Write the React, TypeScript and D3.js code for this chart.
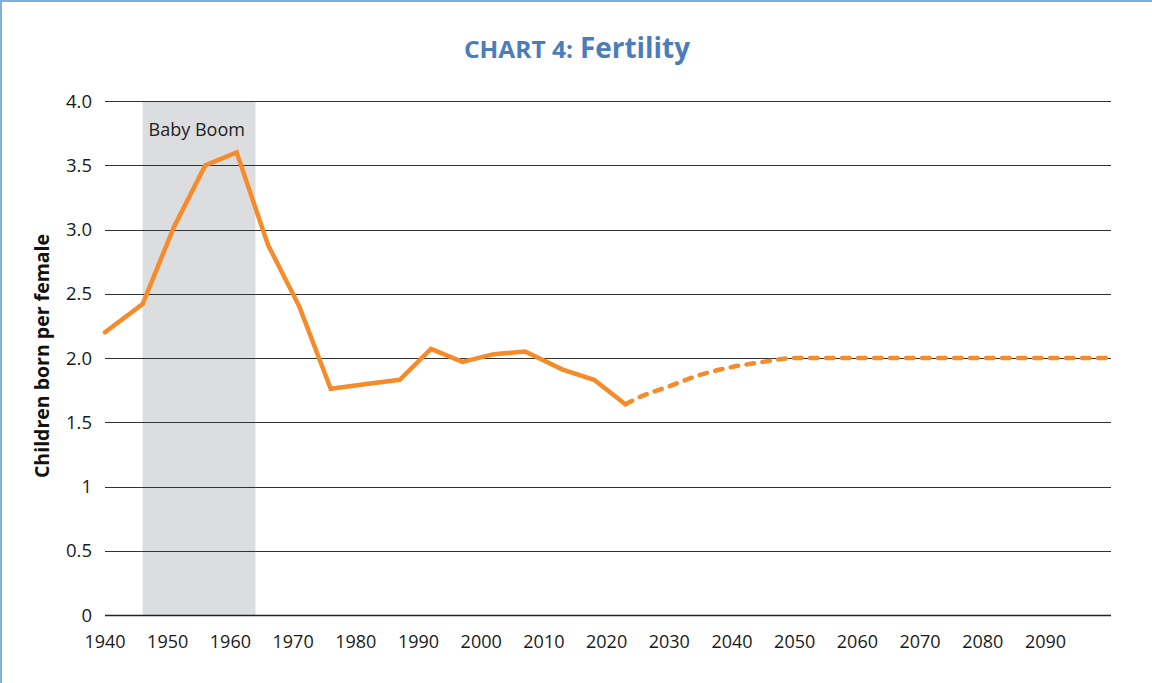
import React from "react";
import * as d3 from "d3";

const histYears = [1940, 1946, 1951, 1956, 1961, 1966, 1971, 1976, 1982, 1987, 1992, 1997, 2002, 2007, 2013, 2018, 2023];
const histValues = [2.2, 2.42, 3.02, 3.5, 3.6, 2.88, 2.4, 1.76, 1.8, 1.83, 2.07, 1.97, 2.03, 2.05, 1.91, 1.83, 1.64];
const projYears = [2023, 2025, 2030, 2035, 2040, 2045, 2050, 2100];
const projValues = [1.64, 1.69, 1.78, 1.87, 1.93, 1.97, 2.0, 2.0];
const yTicks = [0, 0.5, 1, 1.5, 2, 2.5, 3, 3.5, 4];
const yTickLabels = ["0", "0.5", "1", "1.5", "2.0", "2.5", "3.0", "3.5", "4.0"];
const xTicks = [1940, 1950, 1960, 1970, 1980, 1990, 2000, 2010, 2020, 2030, 2040, 2050, 2060, 2070, 2080, 2090];
const boomRange = [1946, 1964];

const W = 1152;
const H = 683;
const left = 105;
const right = 1111;
const top = 101;
const bottom = 615;

export default function App() {
  const x = d3.scaleLinear().domain([1940, 2100.45]).range([left, right]);
  const y = d3.scaleLinear().domain([0, 4]).range([bottom, top]);
  const line = d3
    .line<[number, number]>()
    .x((d) => x(d[0]))
    .y((d) => y(d[1]));
  const projLine = d3
    .line<[number, number]>()
    .x((d) => x(d[0]))
    .y((d) => y(d[1]))
    .curve(d3.curveMonotoneX);
  const hist = histYears.map((yr, i) => [yr, histValues[i]] as [number, number]);
  const proj = projYears.map((yr, i) => [yr, projValues[i]] as [number, number]);
  const font = "'Open Sans', 'Noto Sans', sans-serif";
  const orange = "#F68B2C";
  const blue = "#4A7DBA";

  return (
    <svg
      width={W}
      height={H}
      style={{ position: "absolute", left: 0, top: 0, display: "block", background: "#fff" }}
      fontFamily={font}
    >
      <rect x={0} y={0} width={W} height={H} fill="#fff" />
      <line x1={0} x2={W} y1={1} y2={1} stroke="#7FB0DC" strokeWidth={2} />
      <line x1={1} x2={1} y1={0} y2={H} stroke="#7FB0DC" strokeWidth={2} />

      <text x={573} y={58} textAnchor="end" fill={blue} fontWeight={700} fontSize={22.5} textLength={109} lengthAdjust="spacingAndGlyphs">
        CHART 4:
      </text>
      <text x={580} y={58} textAnchor="start" fill={blue} fontWeight={700} fontSize={28.5} textLength={110} lengthAdjust="spacingAndGlyphs">
        Fertility
      </text>

      <rect
        x={x(boomRange[0])}
        y={top}
        width={x(boomRange[1]) - x(boomRange[0])}
        height={bottom - top}
        fill="#DCDDDF"
      />
      <text x={x(boomRange[0]) + 6} y={136} fontSize={18} fill="#222">
        Baby Boom
      </text>

      {yTicks.map((t, i) => (
        <g key={t}>
          <line
            x1={left}
            x2={right}
            y1={Math.round(y(t)) + 0.5}
            y2={Math.round(y(t)) + 0.5}
            stroke={t === 0 ? "#222" : "#333"}
            strokeWidth={t === 0 ? 1.3 : 1}
          />
          <text x={92} y={y(t) + 6.5} textAnchor="end" fontSize={18.5} fill="#1a1a1a">
            {yTickLabels[i]}
          </text>
        </g>
      ))}

      {xTicks.map((t) => (
        <text key={t} x={x(t)} y={648} textAnchor="middle" fontSize={18} fill="#1a1a1a">
          {t}
        </text>
      ))}

      <text
        transform={`translate(49, ${(top + bottom) / 2 - 2}) rotate(-90)`}
        textAnchor="middle"
        fontSize={19.5}
        fontWeight={700}
        fill="#111"
      >
        Children born per female
      </text>

      <path
        d={projLine(proj) || ""}
        fill="none"
        stroke={orange}
        strokeWidth={4.5}
        strokeDasharray="7.5 8.5"
        strokeLinecap="round"
      />
      <path
        d={line(hist) || ""}
        fill="none"
        stroke={orange}
        strokeWidth={4.5}
        strokeLinejoin="miter"
        strokeLinecap="round"
      />
    </svg>
  );
}
